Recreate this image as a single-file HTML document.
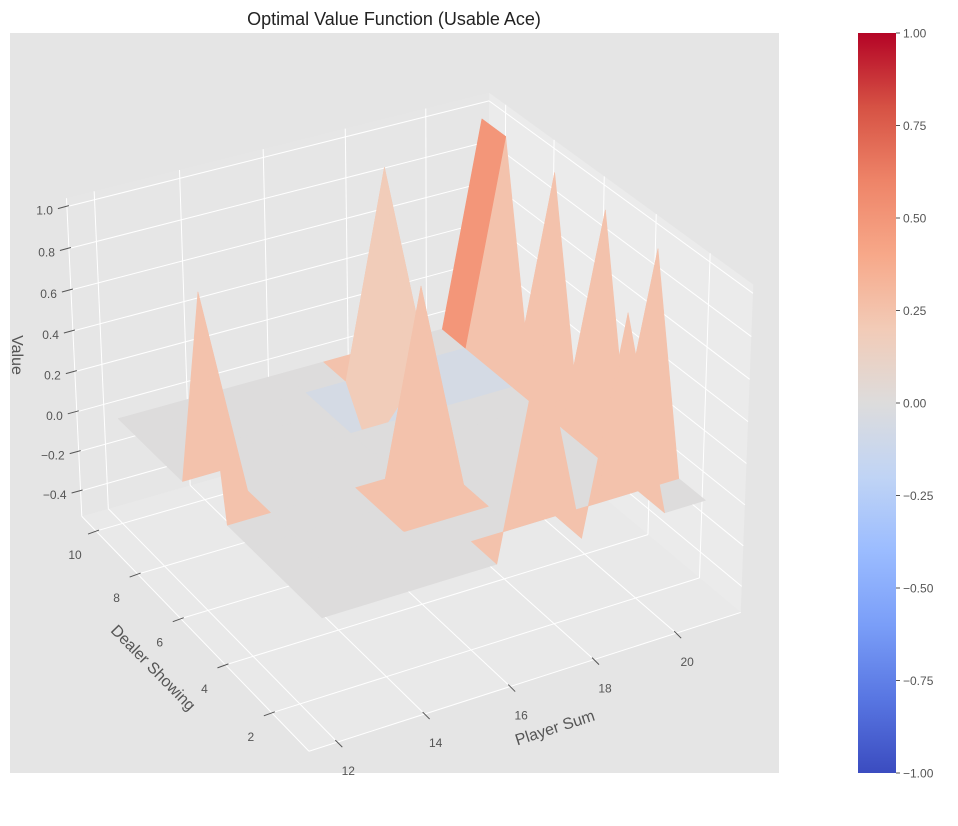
<!DOCTYPE html>
<html><head><meta charset="utf-8">
<style>
body{margin:0;background:#fff}
svg text{font-family:"Liberation Sans","DejaVu Sans",sans-serif}
</style></head>
<body>
<svg id="chart" width="958" height="821" viewBox="0 0 958 821" xmlns="http://www.w3.org/2000/svg">
  <rect x="0" y="0" width="958" height="821" fill="#ffffff"/>
  <rect x="10" y="33" width="769" height="740" fill="#e5e5e5"/>
  <text x="394" y="25" font-size="18" text-anchor="middle" fill="#222">Optimal Value Function (Usable Ace)</text>
  <g id="panes"></g>
  <g id="grid"></g>
  <g id="ticks"></g>
  <g id="surface"></g>
  <text x="555" y="733" font-size="16" fill="#555" text-anchor="middle" transform="rotate(-18 555 728)">Player Sum</text>
  <text x="153" y="673" font-size="16" fill="#555" text-anchor="middle" transform="rotate(45.5 153 668)">Dealer Showing</text>
  <text x="17" y="360" font-size="16" fill="#555" text-anchor="middle" transform="rotate(90 17 355)">Value</text>
  <defs>
    <linearGradient id="cbgrad" x1="0" y1="1" x2="0" y2="0"></linearGradient>
  </defs>
  <rect x="858" y="33" width="38" height="740" fill="url(#cbgrad)"/>
  <g id="cbticks"></g>
</svg>
<script>
const players = [12,13,14,15,16,17,18,19,20,21];
const dealers = [1,2,3,4,5,6,7,8,9,10];
const playerTicks = [12,14,16,18,20];
const dealerTicks = [2,4,6,8,10];
const zTicks = [-0.4,-0.2,0.0,0.2,0.4,0.6,0.8,1.0];
const zTickLabels = ["\u22120.4","\u22120.2","0.0","0.2","0.4","0.6","0.8","1.0"];
const colorbarTicks = [-1,-0.75,-0.5,-0.25,0,0.25,0.5,0.75,1];
const colorbarLabels = ["\u22121.00","\u22120.75","\u22120.50","\u22120.25","0.00","0.25","0.50","0.75","1.00"];
// value per dealer row (player 12..21)
const valuesDealer1  = [0,0,0,0,0,1,0,1,0,0];
const valuesDealer2  = [0,0,0,0,0,0,0,0,0,0];
const valuesDealer3  = [0,0,0,0,0,0,0,0,0,1];
const valuesDealer4  = [0,0,0,0,1,0,0,0,0,0];
const valuesDealer5  = [0,0,0,0,0,0,0,0,0,1];
const valuesDealer6  = [1,0,0,0,0,0,0,0,0,0];
const valuesDealer7  = [0,0,0,0,0,0,0,0,0,1];
const valuesDealer8  = [0,0,0,0,0,-0.25,0,-0.25,0,0];
const valuesDealer9  = [0,0,0,0,0,0,1,0,0,1];
const valuesDealer10 = [0,0,0,0,0,0,0,0,0,1];
const valuesByDealer = [valuesDealer1,valuesDealer2,valuesDealer3,valuesDealer4,valuesDealer5,valuesDealer6,valuesDealer7,valuesDealer8,valuesDealer9,valuesDealer10];

const P0=11.36,P1=21.6,D0=0.45,D1=10.7,Z0=-0.53,Z1=1.04;
const NS="http://www.w3.org/2000/svg";

// camera calibration (3D box geometry -> screen), fitted by DLT
const calib = [
 [P0,D0,Z0,310,753],[P1,D0,Z0,743,613],[P0,D1,Z0,80,517],[P0,D1,Z1,66,199],
 [P1,D0,Z1,757,290],[P1,D1,Z1,491,97],[12,10,0,117,418],[12,1,0,322,617],
 [21,1,0,703,498],[21,10,1,482,117],[21,9,1,505,133],[16,4,1,420,285],
 [16,1,0,496,562],[18,1,0,580,537],[20,1,0,662,510],[15,3,0,402,530],
 [12,6,1,198,292],[12,D0,Z0,338,744],[20,D0,Z0,676,636],[P0,10,Z0,99,532],[P0,2,Z0,274,712]
];
function nrm(p,d,z){return [(p-16.5)/5,(d-5.5)/5,z];}
const H=(function(){
  const A=[],b=[];
  calib.forEach(c=>{
    const [X,Y,Z]=nrm(c[0],c[1],c[2]);const sx=c[3]/1000,sy=c[4]/1000;
    A.push([X,Y,Z,1,0,0,0,0,-sx*X,-sx*Y,-sx*Z]);b.push(sx);
    A.push([0,0,0,0,X,Y,Z,1,-sy*X,-sy*Y,-sy*Z]);b.push(sy);
  });
  const n=11,M=[];
  for(let i=0;i<n;i++){M.push([]);for(let j=0;j<=n;j++){let s=0;for(let k=0;k<A.length;k++)s+=A[k][i]*(j<n?A[k][j]:b[k]);M[i].push(s);}}
  for(let c=0;c<n;c++){
    let piv=c;for(let r=c+1;r<n;r++)if(Math.abs(M[r][c])>Math.abs(M[piv][c]))piv=r;
    [M[c],M[piv]]=[M[piv],M[c]];
    for(let r=0;r<n;r++){if(r===c)continue;const f=M[r][c]/M[c][c];for(let j=c;j<=n;j++)M[r][j]-=f*M[c][j];}
  }
  return M.map((row,i)=>row[n]/row[i]);
})();
function proj(p,d,z){
  const [X,Y,Z]=nrm(p,d,z);
  const w=H[8]*X+H[9]*Y+H[10]*Z+1;
  return [1000*(H[0]*X+H[1]*Y+H[2]*Z+H[3])/w,1000*(H[4]*X+H[5]*Y+H[6]*Z+H[7])/w];
}
function pts(arr){return arr.map(a=>{const q=proj(a[0],a[1],a[2]);return q[0].toFixed(1)+","+q[1].toFixed(1);}).join(" ");}

const cw=[[59,76,192],[88,118,226],[122,158,248],[155,188,255],[192,212,245],[221,220,220],[242,203,183],[247,168,137],[238,132,104],[214,82,68],[180,4,38]];
function coolwarm(t){
  t=Math.max(0,Math.min(1,t));const f=t*10,i=Math.min(9,Math.floor(f)),r=f-i;
  const c=cw[i].map((v,k)=>Math.round(v+(cw[i+1][k]-v)*r));
  return "rgb("+c.join(",")+")";
}
function valColor(v){return coolwarm((v+1)/2);}

// panes
const panes=document.getElementById("panes");
[[[P0,D0,Z0],[P1,D0,Z0],[P1,D1,Z0],[P0,D1,Z0],"#e9e9e9","floor-pane"],
 [[P0,D1,Z0],[P1,D1,Z0],[P1,D1,Z1],[P0,D1,Z1],"#e6e6e6","back-left-pane"],
 [[P1,D0,Z0],[P1,D1,Z0],[P1,D1,Z1],[P1,D0,Z1],"#ebebeb","back-right-pane"]].forEach(pn=>{
  const el=document.createElementNS(NS,"polygon");
  el.setAttribute("points",pts(pn.slice(0,4)));
  el.setAttribute("fill",pn[4]);
  
  
  panes.appendChild(el);
});

// grid lines
const grid=document.getElementById("grid");
function line(g,a,b,name,color,w){
  const p=proj(a[0],a[1],a[2]),q=proj(b[0],b[1],b[2]);
  const el=document.createElementNS(NS,"line");
  el.setAttribute("x1",p[0]);el.setAttribute("y1",p[1]);el.setAttribute("x2",q[0]);el.setAttribute("y2",q[1]);
  el.setAttribute("stroke",color);el.setAttribute("stroke-width",w);
  
  
  g.appendChild(el);
}
playerTicks.forEach(p=>{line(grid,[p,D0,Z0],[p,D1,Z0],"floor-gridline-player","#fff",1);line(grid,[p,D1,Z0],[p,D1,Z1],"wall-gridline-player","#fff",1);});
dealerTicks.forEach(d=>{line(grid,[P0,d,Z0],[P1,d,Z0],"floor-gridline-dealer","#fff",1);line(grid,[P1,d,Z0],[P1,d,Z1],"wall-gridline-dealer","#fff",1);});
zTicks.forEach(z=>{line(grid,[P0,D1,z],[P1,D1,z],"wall-gridline-value","#fff",1);line(grid,[P1,D0,z],[P1,D1,z],"wall-gridline-value","#fff",1);});
line(grid,[P0,D0,Z0],[P1,D0,Z0],"x-axis-line","#fff",1);
line(grid,[P0,D0,Z0],[P0,D1,Z0],"y-axis-line","#fff",1);
line(grid,[P0,D1,Z0],[P0,D1,Z1],"z-axis-line","#fff",1);

// ticks & labels
const ticks=document.getElementById("ticks");
function txt(g,x,y,s,anchor,name){
  const t=document.createElementNS(NS,"text");
  t.setAttribute("x",x);t.setAttribute("y",y);t.setAttribute("font-size","12");t.setAttribute("fill","#555");t.setAttribute("text-anchor",anchor);
  t.textContent=s;
  
  
  g.appendChild(t);
}
function tickmark(g,x1,y1,x2,y2,name){
  const el=document.createElementNS(NS,"line");
  el.setAttribute("x1",x1);el.setAttribute("y1",y1);el.setAttribute("x2",x2);el.setAttribute("y2",y2);
  el.setAttribute("stroke","#555");el.setAttribute("stroke-width","1");
  
  
  g.appendChild(el);
}
playerTicks.forEach(p=>{
  const b=proj(p,D0,Z0);
  tickmark(ticks,b[0]-2,b[1]-2,b[0]+5,b[1]+5,"x-tick");
  txt(ticks,b[0]+11,b[1]+33,String(p),"middle","x-tick-label");
});
dealerTicks.forEach(d=>{
  const b=proj(P0,d,Z0);
  tickmark(ticks,b[0]+3,b[1]-1,b[0]-8,b[1]+3,"y-tick");
  txt(ticks,b[0]-21,b[1]+28,String(d),"middle","y-tick-label");
});
zTicks.forEach((z,i)=>{
  const b=proj(P0,D1,z);
  tickmark(ticks,b[0]+2,b[1]-1,b[0]-9,b[1]+2,"z-tick");
  txt(ticks,b[0]-14,b[1]+8,zTickLabels[i],"end","z-tick-label");
});

// surface faces
const surf=document.getElementById("surface");
const faces=[];
for(let i=0;i<dealers.length-1;i++){
  for(let j=0;j<players.length-1;j++){
    const c=[[players[j],dealers[i],valuesByDealer[i][j]],[players[j+1],dealers[i],valuesByDealer[i][j+1]],
             [players[j+1],dealers[i+1],valuesByDealer[i+1][j+1]],[players[j],dealers[i+1],valuesByDealer[i+1][j]]];
    const avg=(c[0][2]+c[1][2]+c[2][2]+c[3][2])/4;
    let key=0;c.forEach(v=>{key+=(v[0]-P0)/(P1-P0)+(v[1]-D0)/(D1-D0)-0.7*(v[2]-Z0)/(Z1-Z0);});
    faces.push({c,avg,key});
  }
}
faces.sort((a,b)=>b.key-a.key);
faces.forEach(f=>{
  const el=document.createElementNS(NS,"polygon");
  const col=valColor(f.avg);
  el.setAttribute("points",pts(f.c));
  el.setAttribute("fill",col);el.setAttribute("stroke",col);el.setAttribute("stroke-width","0.6");el.setAttribute("stroke-linejoin","round");
  
  
  surf.appendChild(el);
});

// colorbar
const grad=document.getElementById("cbgrad");
for(let k=0;k<=10;k++){
  const s=document.createElementNS(NS,"stop");
  s.setAttribute("offset",(k/10));s.setAttribute("stop-color",coolwarm(k/10));
  grad.appendChild(s);
}
const cbt=document.getElementById("cbticks");
colorbarTicks.forEach((v,i)=>{
  const y=773-(v+1)/2*740;
  tickmark(cbt,896,y,900,y,"colorbar-tick");
  txt(cbt,903,y+4.5,colorbarLabels[i],"start","colorbar-tick-label");
});
</script>
</body></html>
